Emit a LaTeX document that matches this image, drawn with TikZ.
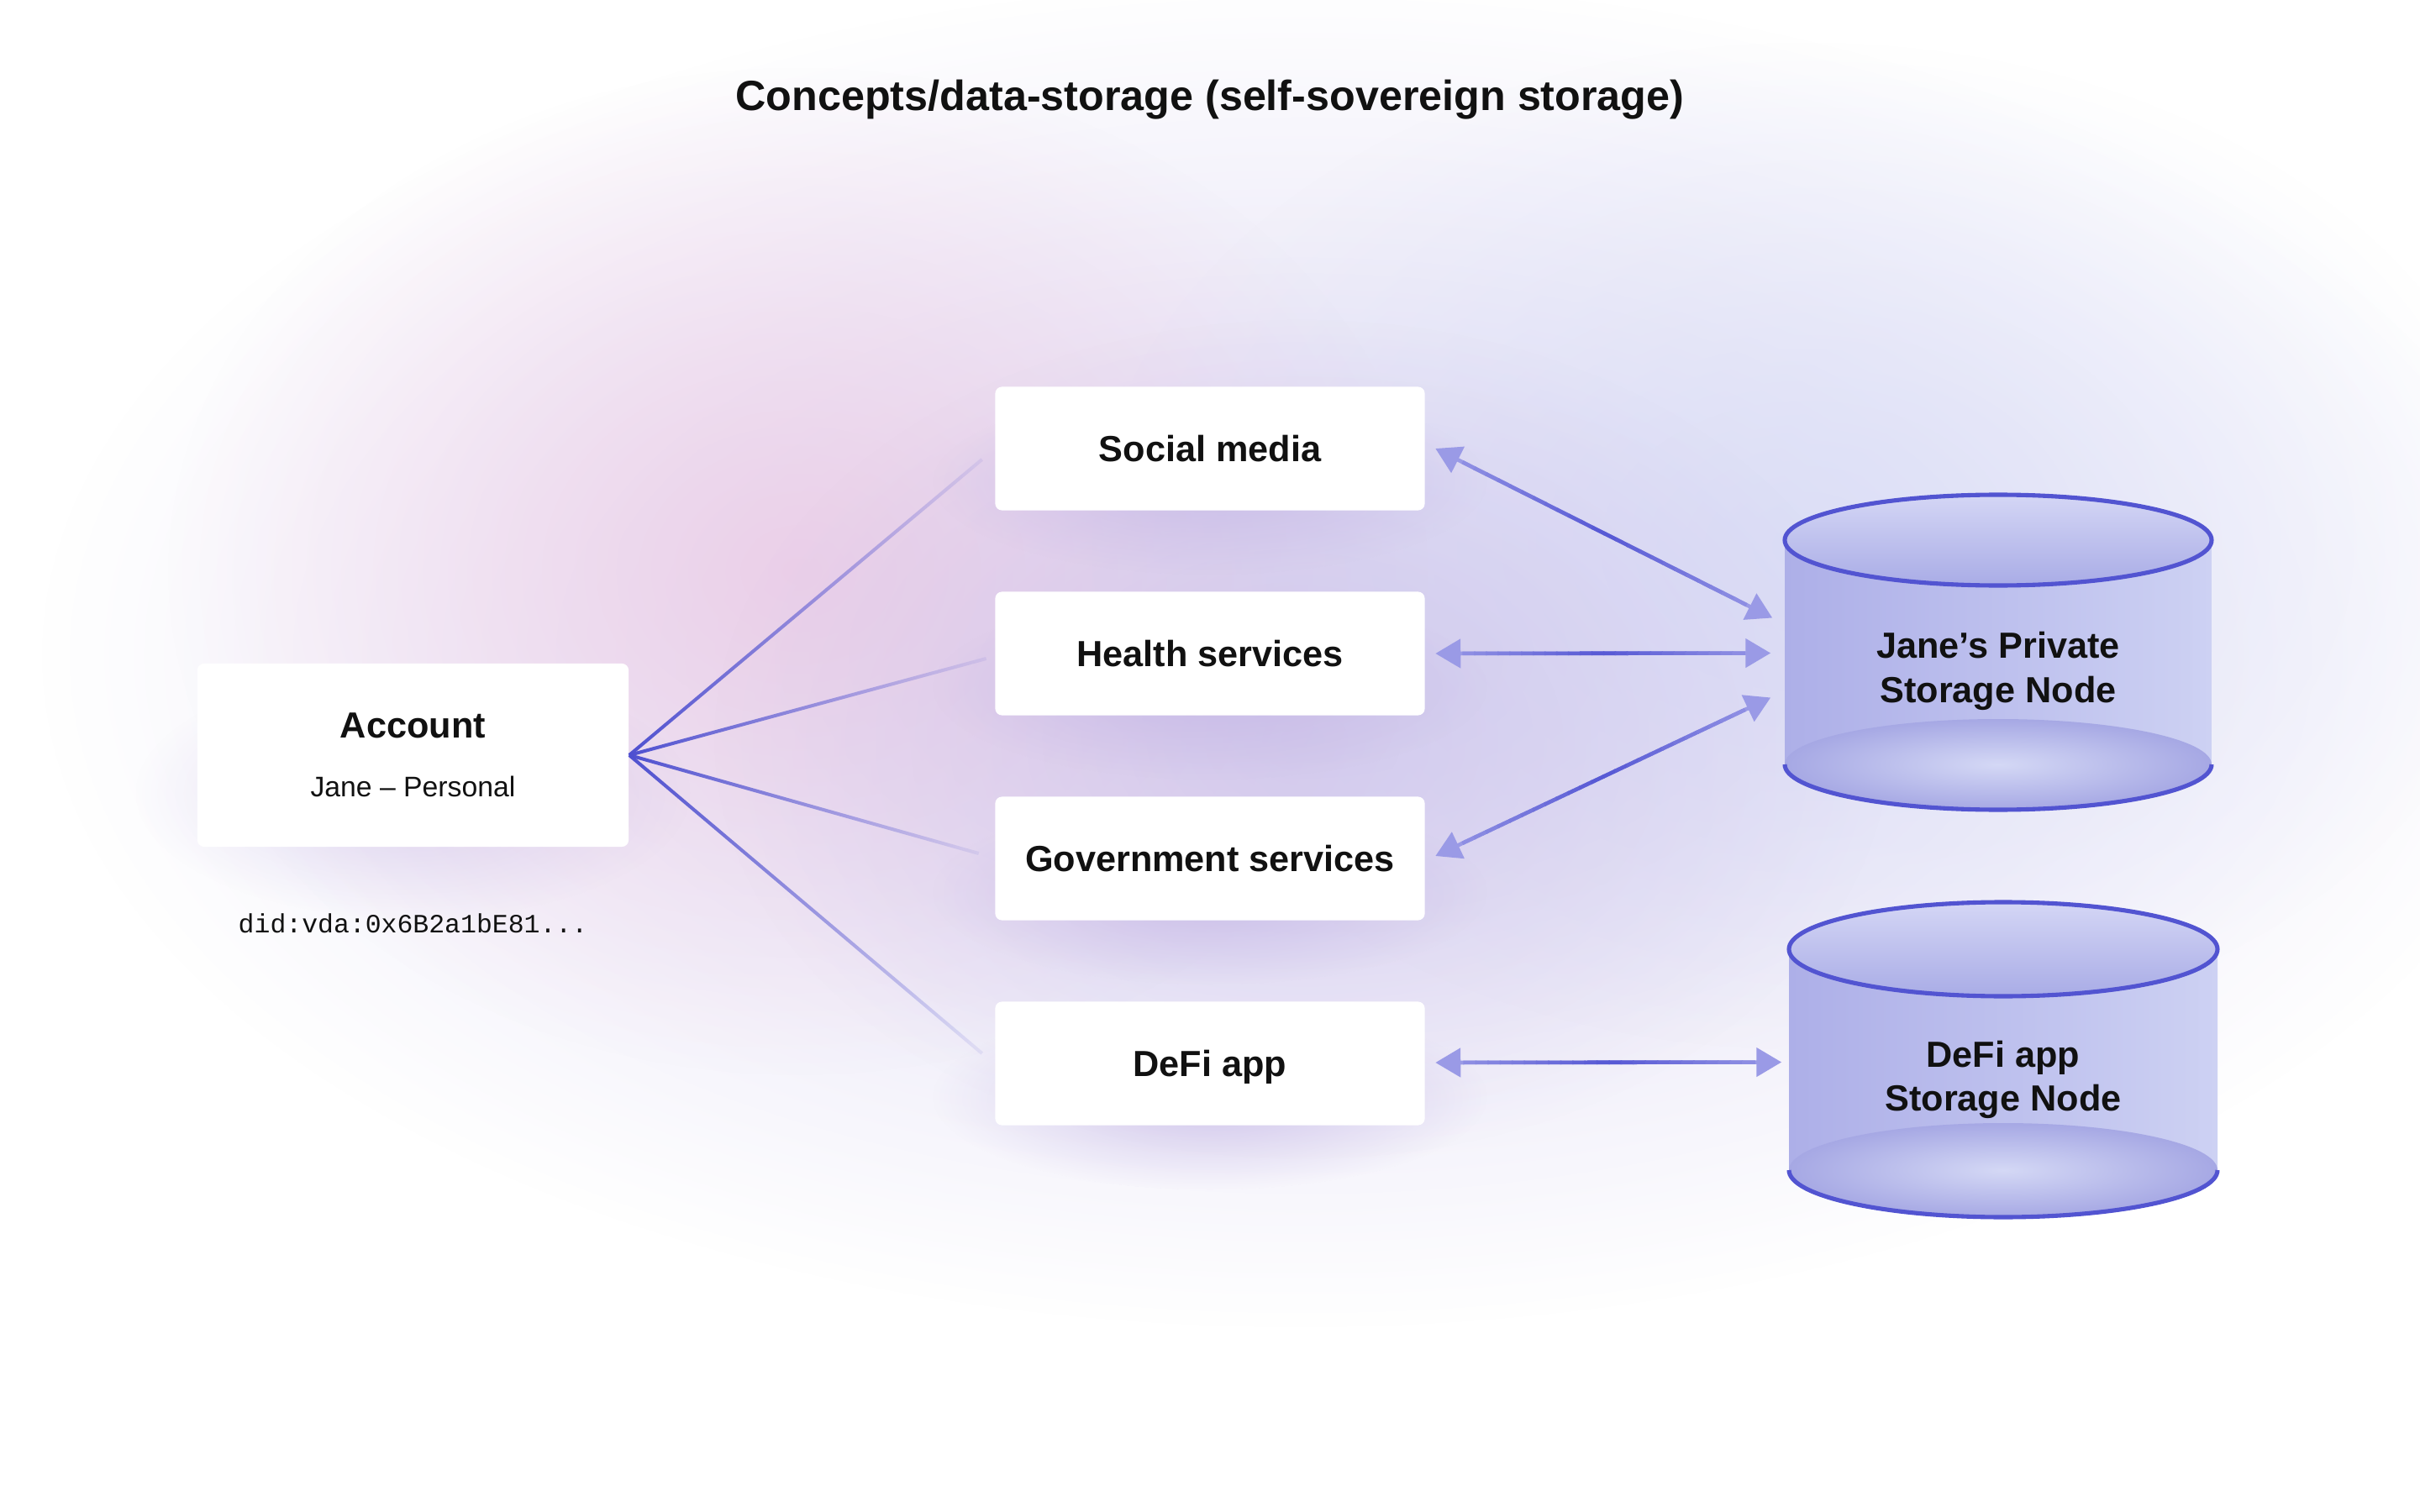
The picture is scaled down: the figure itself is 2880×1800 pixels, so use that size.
\documentclass[tikz,border=0pt]{standalone}
\usepackage{fontspec}
\setmainfont{Liberation Sans}
\setmonofont{Liberation Mono}
\usetikzlibrary{arrows.meta,calc,fadings,backgrounds}

\definecolor{lineblue}{HTML}{5254D1}
\definecolor{arrDark}{HTML}{5557D4}
\definecolor{arrLight}{HTML}{9A9AE6}
\definecolor{fanc}{HTML}{4E50D0}
\definecolor{gLav}{HTML}{D4CEF0}
\definecolor{gPink}{HTML}{EBC5E2}
\definecolor{gBlue}{HTML}{D5DAF6}
\definecolor{gPurp}{HTML}{CBBFE9}
\definecolor{shadowc}{HTML}{C4B6E6}
\definecolor{cylL}{HTML}{ADAFE8}
\definecolor{cylR}{HTML}{CDD1F3}
\definecolor{cylTt}{HTML}{D4D6F5}
\definecolor{cylTb}{HTML}{A9ACE6}
\definecolor{cylBin}{HTML}{D4D8F5}
\definecolor{cylBout}{HTML}{A6A8E4}
\definecolor{txt}{HTML}{111111}

\begin{tikzfadingfrompicture}[name=glowfade]
  \shade[inner color=transparent!0, outer color=transparent!100] (0,0) circle (25bp);
\end{tikzfadingfrompicture}
\begin{tikzfadingfrompicture}[name=fanfade]
  \shade[left color=transparent!0, right color=transparent!92] (-25bp,-25bp) rectangle (25bp,25bp);
\end{tikzfadingfrompicture}

\tikzset{
  svc/.style={fill=white, rounded corners=2.3pt, minimum width=5.11cm, minimum height=1.47cm,
    inner sep=0pt, font=\fontsize{12.3}{14}\selectfont\bfseries, text=txt,
    text height=8.86pt, text depth=0pt},
  accbox/.style={fill=white, rounded corners=2.3pt, minimum width=5.13cm, minimum height=2.18cm, inner sep=0pt},
  boldtxt/.style={font=\fontsize{12.3}{14}\selectfont\bfseries, text=txt, anchor=base, inner sep=0pt},
  fan/.style={draw=fanc, line width=1.15pt, path fading=fanfade},
  arrline/.style={line width=1.3pt, line cap=butt},
  cylline/.style={draw=lineblue, line width=1.45pt},
  tipstyle/.style={{Triangle[length=8.5pt,width=9.7pt]}-{Triangle[length=8.5pt,width=9.7pt]}},
  glow/.style={fill=#1, path fading=glowfade},
}

\newcommand\gradarrow[2]{%
  \draw[arrline, draw=arrLight, fill=arrLight, tipstyle] (#1) -- (#2);
  \foreach \i in {0,...,23}{%
    \pgfmathsetmacro\ta{0.08+0.84*\i/24}%
    \pgfmathsetmacro\tb{0.08+0.84*(\i+1)/24+0.004}%
    \pgfmathtruncatemacro\pp{100*(1-abs(\ta+\tb-1))}%
    \draw[arrline, draw=arrDark!\pp!arrLight] ($(#1)!\ta!(#2)$) -- ($(#1)!\tb!(#2)$);
  }%
}

\newcommand\cylshape[5]{%
  \path[left color=cylL, right color=cylR]
    (#1-#4, #2) -- (#1-#4, #3) arc[start angle=180, end angle=0, x radius=#4, y radius=#5]
    -- (#1+#4, #2) arc[start angle=0, end angle=-180, x radius=#4, y radius=#5] -- cycle;
  \shade[inner color=cylBin, outer color=cylBout] (#1, #3) ellipse (#4 and #5);
  \shade[top color=cylTt, bottom color=cylTb] (#1, #2) ellipse (#4 and #5);
  \draw[cylline] (#1, #2) ellipse (#4 and #5);
  \draw[cylline] (#1-#4, #3) arc[start angle=180, end angle=0, x radius=#4, y radius=#5];
}

\begin{document}
\begin{tikzpicture}[x=0.01cm, y=-0.01cm]
\useasboundingbox (0,0) rectangle (2880,1800);

% title
\node[font=\fontsize{14.3}{16}\selectfont\bfseries, text=txt, anchor=base, inner sep=0pt] (title) at (1440,132)
  {Concepts/data-storage (self-sovereign storage)};

% account
\node[accbox] (acc) at (491.5,899) {};
\node[boldtxt] (accT) at ($(acc.center)+(0,-21)$) {Account};
\node[font=\fontsize{9.6}{11}\selectfont, text=txt, anchor=base, inner sep=0pt] (accS) at ($(acc.center)+(0,49)$) {Jane – Personal};
\node[font=\fontsize{8.95}{10}\selectfont\ttfamily, text=txt, anchor=base, inner sep=0pt] (did) at ($(acc.center)+(0,211)$) {did:vda:0x6B2a1bE81...};

% services
\node[svc] (soc) at (1440,534) {Social media};
\node[svc] (hea) at (1440,778) {Health services};
\node[svc] (gov) at (1440,1022) {Government services};
\node[svc] (dfa) at (1440,1266) {DeFi app};

% storage cylinders
\cylshape{2378}{643}{910}{254}{54}
\node[minimum width=5.08cm, minimum height=2.67cm, inner sep=0pt] (jsn) at (2378,776.5) {};
\node[boldtxt] (jsn1) at (2378,783) {Jane’s Private};
\node[boldtxt] (jsn2) at (2378,836) {Storage Node};

\cylshape{2384}{1130}{1393}{255}{56}
\node[minimum width=5.10cm, minimum height=2.63cm, inner sep=0pt] (dsn) at (2384,1261.5) {};
\node[boldtxt] (dsn1) at (2384,1270) {DeFi app};
\node[boldtxt] (dsn2) at (2384,1322) {Storage Node};

% fan lines
\draw[fan] (acc.east) -- ($(soc.west)+(-15,13)$);
\draw[fan] (acc.east) -- ($(hea.west)+(-10,6)$);
\draw[fan] (acc.east) -- ($(gov.west)+(-19,-6)$);
\draw[fan] (acc.east) -- ($(dfa.west)+(-15,-12)$);

% arrows
\coordinate (s1) at ($(soc.east)+(12,0)$);
\coordinate (s2) at ($(jsn.west)+(-14,-41)$);
\coordinate (h1) at ($(hea.east)+(12,0)$);
\coordinate (h2) at ($(jsn.west)+(-16,1)$);
\coordinate (g1) at ($(gov.east)+(12,-3)$);
\coordinate (g2) at ($(jsn.west)+(-16,54)$);
\coordinate (d1) at ($(dfa.east)+(12,-1)$);
\coordinate (d2) at ($(dsn.west)+(-8,3)$);
\gradarrow{s1}{s2}
\gradarrow{h1}{h2}
\gradarrow{g1}{g2}
\gradarrow{d1}{d2}

% background
\begin{scope}[on background layer]
  \fill[white] (0,0) rectangle (2880,1800);
  \fill[glow=gLav, fill opacity=0.8] (1550,780) ellipse (1500 and 800);
  \fill[glow=gPink, fill opacity=0.7] (950,680) ellipse (750 and 600);
  \fill[glow=gBlue, fill opacity=0.7] (2150,650) ellipse (850 and 600);
  \fill[glow=gPurp, fill opacity=0.6] (1550,880) ellipse (700 and 500);
  \foreach \n in {soc,hea,gov,dfa}
    \fill[glow=shadowc, fill opacity=0.75] ($(\n.center)+(0,40)$) ellipse (330 and 110);
  \fill[glow=shadowc, fill opacity=0.5] ($(acc.center)+(0,45)$) ellipse (330 and 150);
\end{scope}
\end{tikzpicture}
\end{document}
